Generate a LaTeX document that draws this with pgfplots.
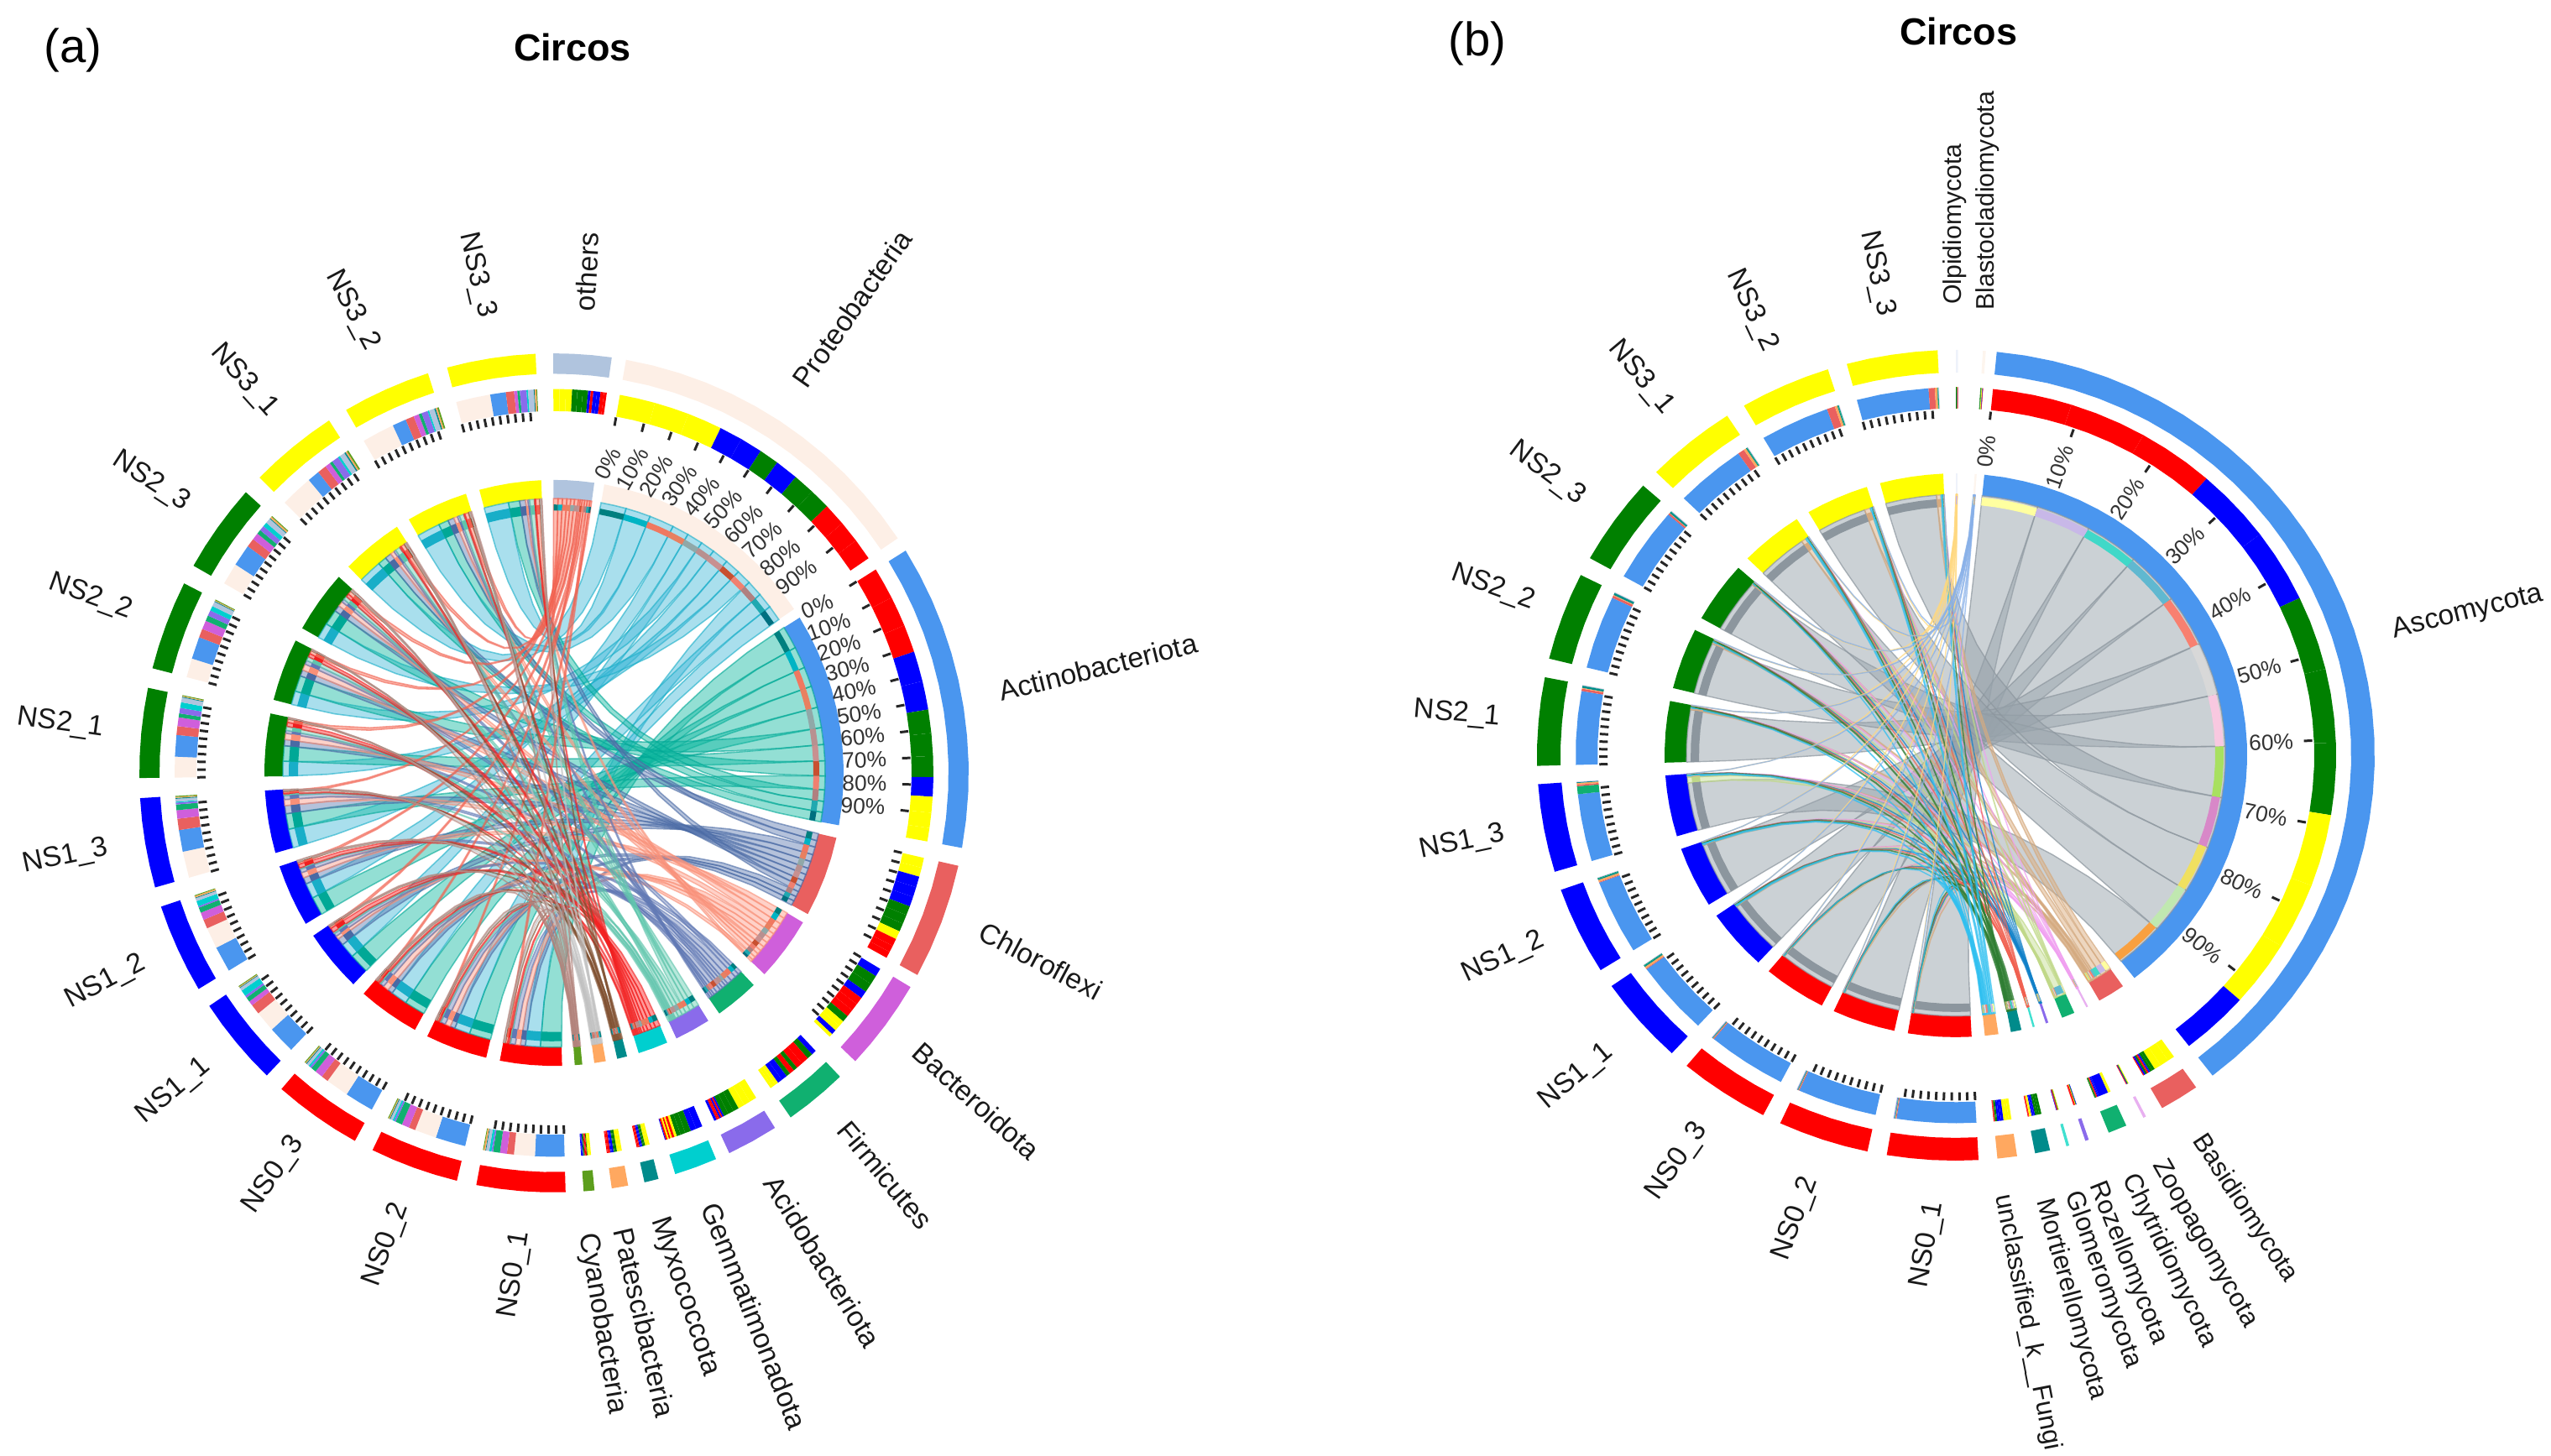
\documentclass[border=0pt]{standalone}
\usepackage{fontspec}
\setmainfont{Liberation Sans}
\usepackage{pgfplots}
\pgfplotsset{compat=1.18}
\definecolor{Sred}{HTML}{FF0000}\definecolor{Sblue}{HTML}{0000FF}\definecolor{Sgreen}{HTML}{008000}\definecolor{Syellow}{HTML}{FFFF00}
\colorlet{Sc1}{Sred}\colorlet{Sc2}{Sred}\colorlet{Sc3}{Sred}
\colorlet{Sc4}{Sblue}\colorlet{Sc5}{Sblue}\colorlet{Sc6}{Sblue}
\colorlet{Sc7}{Sgreen}\colorlet{Sc8}{Sgreen}\colorlet{Sc9}{Sgreen}
\colorlet{Sc10}{Syellow}\colorlet{Sc11}{Syellow}\colorlet{Sc12}{Syellow}
\def\cdefs#1#2{\foreach \n/\h in {#2}{\edef\tmpc{\noexpand\xglobal\noexpand\definecolor{#1\n}{HTML}{\h}}\tmpc}}
\cdefs{Lc}{1/B0C4DE,2/FDEFE6,3/4A96EF,4/E9605F,5/CF5FDB,6/10B070,7/8A6BEB,8/00CFCF,9/008B8B,10/FFA860,11/5C9E1C}
\cdefs{Lf}{1/F86A50,2/40B8D8,3/10B8A0,4/5A78B0,5/FF9A84,6/6A80B8,7/60CCB0,8/FF2020,9/8B5A3C,10/D0D0D0,11/C09088}
\cdefs{Ld}{1/F06050,2/18AEC8,3/00A896,4/4A6AA4,5/F89078,6/6078B4,7/60C4AC,8/F02020,9/805030,10/C0C0C0,11/B08078}
\cdefs{Lq}{1/007F7F,2/00B4C4,3/F07860,4/E88060,5/90A8A8,6/B89090,7/C89090,8/C85030,9/F08070,10/B08080,11/20A8B0,12/007080}
\cdefs{Rc}{1/EEF2FA,2/FDF5EE,3/4A96EF,4/E9605F,5/E8B0F0,6/10B070,7/8A6BEB,8/40E0D0,9/008B8B,10/FFA860}
\cdefs{Rf}{1/FFE08A,2/90B8F0,3/98A3AB,4/DCAE80,5/F0A0F0,6/C8E098,7/1080C8,8/F06050,9/2E7D32,10/30C0F0}
\cdefs{Rd}{1/FFD880,2/88B0E8,3/8C969E,4/D4AA80,5/F0A0F0,6/C0D888,7/1080C8,8/F06050,9/2E7D32,10/30C0F0}
\cdefs{Rq}{1/FFFFA0,2/C8B8E8,3/40D8C8,4/60B8D0,5/F88070,6/D8D8D8,7/F8C8E0,8/A8E060,9/D888C8,10/F0E060,11/C0E8B0,12/F8A040}
\tikzset{lbl/.style={font=\fontsize{9.6}{11}\selectfont,text=black!90},
  lbs/.style={font=\fontsize{8.9}{10}\selectfont,text=black!90},
  lbt/.style={font=\fontsize{8.6}{10}\selectfont,text=black!90},
  pct/.style={font=\fontsize{7.5}{9}\selectfont,text=black!80}}
\makeatletter
\newcount\bandi
\newdimen\xA \newdimen\yA \newdimen\xB \newdimen\yB \newdimen\qx \newdimen\qy
\def\abspoint#1#2{\pgfmathsetmacro\ax{\cx+round(10*\sx*(#1)*sin(#2))/10}\pgfmathsetmacro\ay{\cy-round(10*\sy*(#1)*cos(#2))/10}}
\def\addarc#1#2#3{\pgfmathtruncatemacro\nn{max(1,ceil(abs((#3)-(#2))/4))}\bandi=0
 \loop
  \pgfmathsetmacro\myang{(#2)+((#3)-(#2))*\the\bandi/\nn}\abspoint{#1}{\myang}\xdef\plist{\plist(\ax,\ay)}
 \ifnum\bandi<\nn \advance\bandi by 1 \repeat}
\def\band#1#2#3#4#5{\gdef\plist{}\addarc{#2}{#3}{#4}\addarc{#1}{#4}{#3}%
 \edef\tmp{\noexpand\addplot[fill=#5,draw=none] coordinates {\plist};}\tmp}
\def\bzsetup#1#2{\pgfmathparse{\sx*\chordr*sin(#1)}\xA=\pgfmathresult pt\relax
 \pgfmathparse{-\sy*\chordr*cos(#1)}\yA=\pgfmathresult pt\relax
 \pgfmathparse{\sx*\chordr*sin(#2)}\xB=\pgfmathresult pt\relax
 \pgfmathparse{-\sy*\chordr*cos(#2)}\yB=\pgfmathresult pt\relax}
\def\bz#1#2{\qx=\dimexpr\cx pt+#1\xA+#2\xB\relax\qy=\dimexpr\cy pt+#1\yA+#2\yB\relax
 \xdef\plist{\plist(\strip@pt\qx,\strip@pt\qy)}}
\def\beziersteps{\bz{.84028}{.00694}\bz{.69444}{.02778}\bz{.5625}{.0625}\bz{.44444}{.11111}\bz{.34028}{.17361}\bz{.25}{.25}\bz{.17361}{.34028}\bz{.11111}{.44444}\bz{.0625}{.5625}\bz{.02778}{.69444}\bz{.00694}{.84028}}
\def\chord#1#2#3#4#5#6{\gdef\plist{}\addarc{\chordr}{#1}{#2}\bzsetup{#2}{#3}\beziersteps
 \addarc{\chordr}{#3}{#4}\bzsetup{#4}{#1}\beziersteps
 \abspoint{\chordr}{#1}\xdef\plist{\plist(\ax,\ay)}%
 \edef\tmp{\noexpand\addplot[fill=#5,draw=#6,fill opacity=\linkop,draw opacity=\linkdo,line width=\linkwd] coordinates {\plist};}\tmp}
\def\cs@#1{\csname #1\endcsname}
\def\defphy#1#2#3#4#5{\expandafter\xdef\csname #1-a-#2\endcsname{#3}\expandafter\xdef\csname #1-b-#2\endcsname{#4}%
 \expandafter\gdef\csname #1-list-#2\endcsname{#5}\gdef\colsum{0}%
 \foreach \smp/\val in {#5}{\expandafter\xdef\csname #1-v-\smp-#2\endcsname{\val}%
  \pgfmathsetmacro\tmpv{\colsum+\val}\xdef\colsum{\tmpv}%
  \pgfmathsetmacro\tmpv{\csname #1-row-\smp\endcsname+\val}\expandafter\xdef\csname #1-row-\smp\endcsname{\tmpv}}%
 \expandafter\xdef\csname #1-col-#2\endcsname{\colsum}}
\def\defsmp#1#2#3#4#5{\expandafter\xdef\csname #1-a-s#2\endcsname{#3}\expandafter\xdef\csname #1-b-s#2\endcsname{#4}%
 \expandafter\gdef\csname #1-ord-#2\endcsname{#5}\xdef\cur{#3}%
 \foreach \phy in {#5}{\pgfmathsetmacro\wid{\csname #1-v-#2-\phy\endcsname/\csname #1-row-#2\endcsname*((#4)-(#3))}%
  \pgfmathsetmacro\nxt{\cur+\wid}%
  \expandafter\xdef\csname #1-sa-#2-\phy\endcsname{\cur}\expandafter\xdef\csname #1-sb-#2-\phy\endcsname{\nxt}\xdef\cur{\nxt}}}
\def\addtick#1{\abspoint{\tra}{#1}\xdef\tlist{\tlist(\ax,\ay)}\abspoint{\trb}{#1}\xdef\tlist{\tlist(\ax,\ay)(nan,nan)}}
\def\tensticks#1#2{\foreach \k in {0,...,9}{\pgfmathsetmacro\tang{(#1)+((#2)-(#1))*\k/10}\addtick{\tang}}}
\def\drawpanel#1#2#3{%
 \gdef\tlist{}%
 \foreach \phy in {#2}{\edef\pa{\cs@{#1-a-\phy}}\edef\pb{\cs@{#1-b-\phy}}%
  \band{\ria}{\rib}{\pa}{\pb}{#1c\phy}\band{\roa}{\rob}{\pa}{\pb}{#1c\phy}}%
 \foreach \phy in {#3}{\edef\pa{\cs@{#1-a-\phy}}\edef\pb{\cs@{#1-b-\phy}}\tensticks{\pa}{\pb}}%
 \foreach \smp in {1,...,12}{\edef\pa{\cs@{#1-a-s\smp}}\edef\pb{\cs@{#1-b-s\smp}}%
  \band{\ria}{\rib}{\pa}{\pb}{Sc\smp}\band{\roa}{\rob}{\pa}{\pb}{Sc\smp}\tensticks{\pa}{\pb}%
  \edef\ordl{\cs@{#1-ord-\smp}}%
  \foreach \phy in \ordl {\band{\rta}{\rtb}{\cs@{#1-sa-\smp-\phy}}{\cs@{#1-sb-\smp-\phy}}{#1c\phy}}}%
 \foreach \phy in {#2}{\edef\pa{\cs@{#1-a-\phy}}\edef\pb{\cs@{#1-b-\phy}}\edef\pc{\cs@{#1-col-\phy}}\edef\lst{\cs@{#1-list-\phy}}%
  \xdef\cur{\pa}%
  \foreach \smp/\val in \lst {\pgfmathsetmacro\wid{\val/\pc*(\pb-\pa)}\pgfmathsetmacro\nxt{\cur+\wid}%
   \expandafter\xdef\csname #1-pa-\smp-\phy\endcsname{\cur}\expandafter\xdef\csname #1-pb-\smp-\phy\endcsname{\nxt}%
   \edef\sA{\cs@{#1-sa-\smp-\phy}}\edef\sB{\cs@{#1-sb-\smp-\phy}}\edef\cA{\cur}%
   \chord{\sA}{\sB}{\cA}{\nxt}{#1f\phy}{#1d\phy}%
   \band{\rta}{\rtb}{\cA}{\nxt}{Sc\smp}\xdef\cur{\nxt}}}%
 \foreach \phy in {#2}{\edef\lst{\cs@{#1-list-\phy}}%
  \foreach \smp/\val [count=\kk] in \lst {%
   \band{\rsa}{\rsb}{\cs@{#1-sa-\smp-\phy}}{\cs@{#1-sb-\smp-\phy}}{#1d\phy}%
   \band{\rpa}{\rpb}{\cs@{#1-pa-\smp-\phy}}{\cs@{#1-pb-\smp-\phy}}{#1q\kk}}}%
 \edef\tmp{\noexpand\addplot[black!85,line width=.85pt,unbounded coords=jump] coordinates {\tlist};}\tmp}
\def\pctlabels#1#2#3#4#5{\foreach \k in {0,...,9}{\pgfmathsetmacro\tang{(#1)+((#2)-(#1))*\k/10}\abspoint{#3}{\tang}%
 \pgfmathsetmacro\rotv{(#4)-(#5)*\tang}\pgfmathtruncatemacro\pctv{\k*10}%
 \edef\tmp{\noexpand\node[pct,rotate=\rotv] at (axis cs:\ax,\ay) {\pctv\noexpand\%};}\tmp}}
\makeatother
\pgfplotsset{panel/.style={at={(0,0)},anchor=south west,scale only axis,width=303.9mm,height=173.5mm,
  xmin=0,xmax=3039,ymin=0,ymax=1735,y dir=reverse,hide axis,clip=false}}
\foreach \smp in {1,...,12}{\expandafter\gdef\csname L-row-\smp\endcsname{0}\expandafter\gdef\csname R-row-\smp\endcsname{0}}
\defphy{L}{1}{-0.1}{8}{12/7,11/7,10/7,8/6,7/6,9/6,6/3,3/3,5/4,4/4,1/4,2/3}
\defphy{L}{2}{10}{56}{10/43,12/42,11/42,5/28,4/27,8/24,6/28,7/26,9/25,1/27,3/26,2/26}
\defphy{L}{3}{58}{100.3}{1/38,2/36,3/33,4/36,5/34,8/28,7/27,9/25,6/23,12/19,11/18,10/16}
\defphy{L}{4}{102.8}{118.8}{10/12,11/11,4/13,5/12,6/12,7/11,8/11,9/10,12/10,1/9,2/8,3/8}
\defphy{L}{5}{120.7}{133.4}{5/10,7/11,8/11,6/9,1/9,2/9,3/9,9/8,10/7,11/7,4/6,12/4}
\defphy{L}{6}{136.4}{145.2}{4/6,8/7,1/9,2/8,7/5,3/6,9/5,5/7,6/6,10/4,11/4,12/3}
\defphy{L}{7}{147.8}{155}{10/9,11/8,12/8,7/7,8/7,9/6,6/2,1/2,5/2,2/2,3/2,4/3}
\defphy{L}{8}{157}{163}{4/8,5/7,7/7,8/6,9/5,10/3,1/3,11/2,2/2,12/2,3/2,6/1}
\defphy{L}{9}{165.4}{167.4}{10/2,11/2,12/1,7/1,8/1,9/1,4/1,5/1,6/1,1/1,2/1,3/1}
\defphy{L}{10}{169.7}{172}{10/2,11/2,12/2,9/2,8/1,7/1,5/2,6/1,4/1,1/2,2/1,3/1}
\defphy{L}{11}{174.4}{175.9}{10/2,12/1,11/2,9/1,1/1,2/1,3/1,8/1,7/1,4/1,5/1,6/1}
\defsmp{L}{1}{178.4}{190.8}{3,2,4,5,6,7,8,1,9,10,11}
\defsmp{L}{2}{193.55}{205.95}{3,2,4,5,6,7,8,1,9,10,11}
\defsmp{L}{3}{208.7}{221.1}{3,2,4,5,6,7,8,1,9,10,11}
\defsmp{L}{4}{223.85}{236.25}{3,2,4,5,6,7,8,1,9,10,11}
\defsmp{L}{5}{239}{251.4}{3,2,4,5,6,7,8,1,9,10,11}
\defsmp{L}{6}{254.15}{266.55}{2,3,4,5,6,7,8,1,9,10,11}
\defsmp{L}{7}{269.3}{281.7}{2,3,4,5,6,7,8,1,9,10,11}
\defsmp{L}{8}{284.45}{296.85}{2,3,4,5,6,7,8,1,9,10,11}
\defsmp{L}{9}{299.6}{312}{2,3,4,5,6,7,8,1,9,10,11}
\defsmp{L}{10}{314.75}{327.15}{2,3,4,5,6,7,8,1,9,10,11}
\defsmp{L}{11}{329.9}{342.3}{2,3,4,5,6,7,8,1,9,10,11}
\defsmp{L}{12}{345.05}{357.45}{2,3,4,5,6,7,8,1,9,10,11}
\defphy{R}{1}{0}{0.3}{8/.4,9/.4,7/.3,10/.2,11/.2,12/.2,4/.1,5/.1,6/.1,1/.1,2/.1,3/.1}
\defphy{R}{2}{3.7}{4.1}{8/.5,9/.4,7/.4,10/.3,11/.3,12/.3,4/.2,5/.2,6/.2,1/.1,2/.1,3/.1}
\defphy{R}{3}{5.6}{142.2}{1/98,2/96,3/95,4/96,5/94,7/95,8/94,9/92,12/92,11/85,10/85,6/85}
\defphy{R}{4}{145}{150.5}{12/8,11/10,10/8,7/3,8/3,4/1,5/1,1/1,2/1,9/2,6/2,3/1}
\defphy{R}{5}{153}{153.4}{10/.3,11/.3,12/.3,7/.3,8/.3,9/.3,4/.2,5/.2,6/.2,1/.2,2/.2,3/.2}
\defphy{R}{6}{156}{158.6}{12/1,11/1,10/1,6/10,5/1,4/1,3/.5,2/.5,1/.5,7/.5,8/.5,9/.5}
\defphy{R}{7}{161.5}{162}{4/.2,5/.2,6/.2,7/.2,8/.2,9/.2,10/.2,11/.2,12/.2,1/.8,2/.6,3/.5}
\defphy{R}{8}{164.3}{164.7}{10/.2,11/.2,12/.2,7/.2,8/.2,9/.2,1/.4,2/.3,3/.3,4/.1,5/.1,6/.1}
\defphy{R}{9}{167}{169.1}{8/2.5,7/2.5,9/2,5/1.5,4/1.5,6/1,11/1,10/1,12/.5,1/.5,2/.5,3/.5}
\defphy{R}{10}{171.6}{174.3}{12/3,11/3,10/3,5/2.5,4/2.5,6/2,7/1,8/1,9/.5,1/.5,2/.5,3/.5}
\defsmp{R}{1}{176.9}{189.5}{3,4,10,9,6,7,8,5,1,2}
\defsmp{R}{2}{192.2}{204.8}{3,4,10,9,6,7,8,5,1,2}
\defsmp{R}{3}{207.4}{220}{3,4,10,9,6,7,8,5,1,2}
\defsmp{R}{4}{222.7}{235.3}{3,4,10,9,6,7,8,5,1,2}
\defsmp{R}{5}{238}{250.6}{3,4,10,9,6,7,8,5,1,2}
\defsmp{R}{6}{253.3}{265.9}{3,6,4,10,9,7,8,5,1,2}
\defsmp{R}{7}{268.5}{281.1}{3,4,10,9,6,7,8,5,1,2}
\defsmp{R}{8}{283.8}{296.4}{3,4,10,9,6,7,8,5,1,2}
\defsmp{R}{9}{299.1}{311.7}{3,4,10,9,6,7,8,5,1,2}
\defsmp{R}{10}{314.3}{326.9}{3,4,10,9,6,7,8,5,1,2}
\defsmp{R}{11}{329.6}{342.2}{3,4,10,9,6,7,8,5,1,2}
\defsmp{R}{12}{344.9}{357.5}{3,4,10,9,6,7,8,5,1,2}
\begin{document}
\begin{tikzpicture}
\useasboundingbox (0,0) rectangle (303.9mm,173.5mm);
\begin{axis}[panel]
\def\cx{660}\def\cy{921}\def\sx{1}\def\sy{1.012}
\def\ria{323}\def\rib{345}\def\roa{470}\def\rob{494}\def\rta{426}\def\rtb{452}\def\tra{415}\def\trb{425}
\def\rsa{305}\def\rsb{316}\def\rpa{309}\def\rpb{316}\def\chordr{323}\def\linkop{.45}\def\linkwd{.45pt}\def\linkdo{.6}
\drawpanel{L}{2,3,4,5,6,7,1,8,9,10,11}{2,3,4,5}
\pctlabels{10}{56}{370}{70}{.667}
\pctlabels{58}{100.3}{370}{62.5}{.68}
\node[font=\fontsize{16}{18}\selectfont] at (axis cs:87,60) {(a)};
\node[font=\bfseries\fontsize{12.8}{14}\selectfont] at (axis cs:682,56) {Circos};
\node[lbl,rotate=87] at (axis cs:699,324) {others};
\node[lbl,rotate=55] at (axis cs:1015,368) {Proteobacteria};
\node[lbl,rotate=14] at (axis cs:1308,795) {Actinobacteriota};
\node[lbl,rotate=-28] at (axis cs:1240,1145) {Chloroflexi};
\node[lbl,rotate=-42] at (axis cs:1163,1312) {Bacteroidota};
\node[lbl,rotate=-50] at (axis cs:1055,1400) {Firmicutes};
\node[lbl,rotate=-58.3] at (axis cs:980,1503) {Acidobacteriota};
\node[lbl,rotate=-68.3] at (axis cs:899,1568) {Gemmatimonadota};
\node[lbl,rotate=-71.4] at (axis cs:816,1545) {Myxococcota};
\node[lbl,rotate=-77] at (axis cs:768,1576) {Patescibacteria};
\node[lbl,rotate=-80.5] at (axis cs:717,1577) {Cyanobacteria};
\node[lbl,rotate=81] at (axis cs:613,1519) {NS0\_1};
\node[lbl,rotate=70] at (axis cs:460,1483) {NS0\_2};
\node[lbl,rotate=55] at (axis cs:326,1400) {NS0\_3};
\node[lbl,rotate=40] at (axis cs:207,1300) {NS1\_1};
\node[lbl,rotate=28] at (axis cs:126,1170) {NS1\_2};
\node[lbl,rotate=12] at (axis cs:78,1021) {NS1\_3};
\node[lbl,rotate=-8] at (axis cs:72,862) {NS2\_1};
\node[lbl,rotate=-20] at (axis cs:108,711) {NS2\_2};
\node[lbl,rotate=-33] at (axis cs:180,574) {NS2\_3};
\node[lbl,rotate=-48] at (axis cs:291,453) {NS3\_1};
\node[lbl,rotate=-62] at (axis cs:420,370) {NS3\_2};
\node[lbl,rotate=-77] at (axis cs:568,328) {NS3\_3};
\end{axis}
\begin{axis}[panel]
\def\cx{2330}\def\cy{900}\def\sx{1}\def\sy{.968}
\def\ria{321}\def\rib{347}\def\roa{471}\def\rob{499}\def\rta{427}\def\rtb{453}\def\tra{415}\def\trb{425}
\def\rsa{306}\def\rsb{316}\def\rpa{309}\def\rpb{319}\def\chordr{321}\def\linkop{.5}\def\linkwd{.4pt}\def\linkdo{.7}
\drawpanel{R}{3,4,5,6,7,8,9,10,1,2}{3}
\pctlabels{5.6}{142.2}{376}{90}{1}
\node[font=\fontsize{16}{18}\selectfont] at (axis cs:1760,52) {(b)};
\node[font=\bfseries\fontsize{12.8}{14}\selectfont] at (axis cs:2333,37) {Circos};
\node[lbt,rotate=90] at (axis cs:2329,267) {Olpidiomycota};
\node[lbt,rotate=90] at (axis cs:2368,239) {Blastocladiomycota};
\node[lbl,rotate=14] at (axis cs:2940,730) {Ascomycota};
\node[lbs,rotate=-56.8] at (axis cs:2674,1440) {Basidiomycota};
\node[lbs,rotate=-60.4] at (axis cs:2626,1482) {Zoopagomycota};
\node[lbs,rotate=-64.6] at (axis cs:2584,1502) {Chytridiomycota};
\node[lbs,rotate=-68.2] at (axis cs:2535,1505) {Rozellomycota};
\node[lbs,rotate=-70.6] at (axis cs:2505,1525) {Glomeromycota};
\node[lbs,rotate=-74.7] at (axis cs:2467,1548) {Mortierellomycota};
\node[lbs,rotate=-78.9] at (axis cs:2415,1576) {unclassified\_k\_\_Fungi};
\node[lbl,rotate=80] at (axis cs:2296,1483) {NS0\_1};
\node[lbl,rotate=70] at (axis cs:2139,1452) {NS0\_2};
\node[lbl,rotate=55] at (axis cs:1998,1384) {NS0\_3};
\node[lbl,rotate=40] at (axis cs:1878,1283) {NS1\_1};
\node[lbl,rotate=25] at (axis cs:1791,1141) {NS1\_2};
\node[lbl,rotate=12] at (axis cs:1742,1004) {NS1\_3};
\node[lbl,rotate=-5] at (axis cs:1736,851) {NS2\_1};
\node[lbl,rotate=-20] at (axis cs:1779,700) {NS2\_2};
\node[lbl,rotate=-37] at (axis cs:1843,564) {NS2\_3};
\node[lbl,rotate=-50] at (axis cs:1955,450) {NS3\_1};
\node[lbl,rotate=-65] at (axis cs:2087,370) {NS3\_2};
\node[lbl,rotate=-78] at (axis cs:2236,326) {NS3\_3};
\end{axis}
\end{tikzpicture}
\end{document}
